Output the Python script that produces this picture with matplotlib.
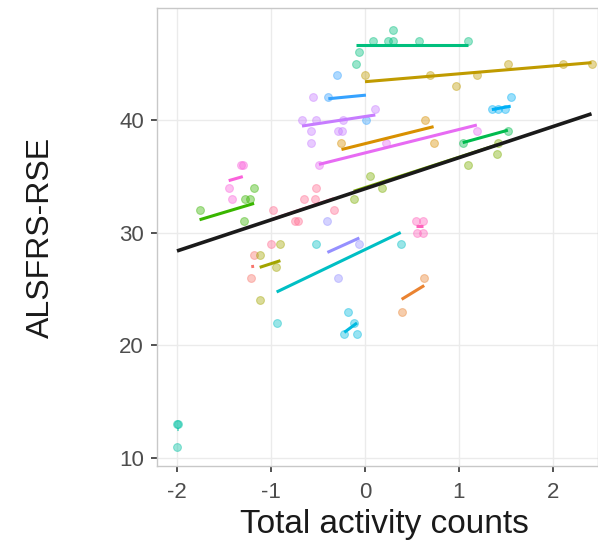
import numpy as np
import matplotlib
matplotlib.use("Agg")
import matplotlib.pyplot as plt

plt.rcParams['font.family'] = ['Liberation Sans', 'DejaVu Sans']
plt.rcParams['axes.unicode_minus'] = False

# per-subject points (total activity counts, ALSFRS-RSE)
groups = ['Q', 'O', 'E', 'B', 'P', 'H', 'I', 'G', 'A', 'R',
          'L', 'M', 'S', 'C', 'T', 'D', 'F', 'J', 'N', 'K']
colors = ['#F8766D', '#EA8331', '#D89000', '#C09B00', '#A3A500',
          '#7CAE00', '#39B600', '#00BB4E', '#00BF7D', '#00C1A3',
          '#00BFC4', '#00BAE0', '#00B0F6', '#35A2FF', '#9590FF',
          '#C77CFF', '#E76BF3', '#FA62DB', '#FF62BC', '#FF6C91']

x_vals = {
    'A': [-0.10, -0.06, 0.09, 0.25, 0.30, 0.30, 0.57, 1.10],
    'B': [0.00, 0.69, 0.97, 1.19, 1.52, 2.11, 2.41],
    'C': [-0.39, -0.30, 0.01],
    'D': [-0.67, -0.57, -0.57, -0.55, -0.52, -0.29, -0.24, -0.23, 0.11],
    'E': [-0.25, 0.64, 0.73],
    'F': [-0.49, 0.22, 1.19],
    'G': [1.04, 1.52],
    'H': [-0.12, 0.05, 0.18, 1.10, 1.40, 1.41],
    'I': [-1.76, -1.29, -1.28, -1.22, -1.18],
    'J': [-1.45, -1.41, -1.32, -1.30],
    'K': [-1.00, -0.98, -0.74, -0.71, -0.65, -0.53, -0.52, -0.33],
    'L': [-0.94, -0.52, 0.38],
    'M': [-0.22, -0.18, -0.12, -0.085],
    'N': [0.54, 0.62, 0.55, 0.62],
    'O': [0.39, 0.63],
    'P': [-1.12, -1.12, -0.95, -0.90],
    'Q': [-1.21, -1.18],
    'R': [-2.00, -1.99, -2.00],
    'S': [1.35, 1.42, 1.49, 1.55],
    'T': [-0.40, -0.29, -0.06],
}
y_vals = {
    'A': [45, 46, 47, 47, 48, 47, 47, 47],
    'B': [44, 44, 43, 44, 45, 45, 45],
    'C': [42, 44, 40],
    'D': [40, 39, 38, 42, 40, 39, 39, 40, 41],
    'E': [38, 40, 38],
    'F': [36, 38, 39],
    'G': [38, 39],
    'H': [33, 35, 34, 36, 37, 38],
    'I': [32, 31, 33, 33, 34],
    'J': [34, 33, 36, 36],
    'K': [29, 32, 31, 31, 33, 33, 34, 32],
    'L': [22, 29, 29],
    'M': [21, 23, 22, 21],
    'N': [31, 31, 30, 30],
    'O': [23, 26],
    'P': [28, 24, 27, 29],
    'Q': [26, 28],
    'R': [13, 13, 11],
    'S': [41, 41, 41, 42],
    'T': [31, 26, 29],
}

# subject-level fitted lines (intercept, slope)
intercepts = {'A': 46.7, 'B': 43.4, 'C': 42.2, 'D': 40.31, 'E': 37.9,
              'F': 37.08, 'G': 35.6, 'H': 34.0, 'I': 35.55, 'J': 38.1,
              'K': 33.95, 'L': 28.5, 'M': 22.52, 'N': 30.6, 'O': 22.1,
              'P': 29.95, 'Q': 28.2, 'R': 12.6, 'S': 38.9, 'T': 29.76}
slopes = {'A': 0.0, 'B': 0.70, 'C': 0.8, 'D': 1.26, 'E': 2.07,
          'F': 2.08, 'G': 2.3, 'H': 2.7, 'I': 2.5, 'J': 2.4,
          'K': 2.8, 'L': 4.0, 'M': 6.2, 'N': 0.0, 'O': 5.1,
          'P': 2.7, 'Q': 1.0, 'R': 0.0, 'S': 1.5, 'T': 3.77}

# population-level line
fixed_intercept = 33.9
fixed_slope = 2.76

fig = plt.figure(figsize=(5.98, 5.44), dpi=100)
ax = fig.add_axes([0.2625, 0.1434, 0.7375, 0.8419])

for g, c in zip(groups, colors):
    ax.scatter(x_vals[g], y_vals[g], s=32, color=c, alpha=0.4,
               edgecolors=c, linewidths=0.8, zorder=2)

for g, c in zip(groups, colors):
    xs = np.array([min(x_vals[g]), max(x_vals[g])])
    ax.plot(xs, intercepts[g] + slopes[g] * xs, color=c, lw=2.2,
            solid_capstyle='butt', zorder=3)

all_x = np.concatenate([x_vals[g] for g in groups])
xs = np.array([all_x.min(), all_x.max()])
ax.plot(xs, fixed_intercept + fixed_slope * xs, color='#1a1a1a', lw=2.6,
        solid_capstyle='butt', zorder=4)

ax.set_xlim(-2.213, 2.479)
ax.set_ylim(9.30, 49.94)
ax.set_xticks([-2, -1, 0, 1, 2])
ax.set_yticks([10, 20, 30, 40])
ax.grid(True, color='#ebebeb', lw=1.0, zorder=0)
ax.set_axisbelow(True)
for sp in ax.spines.values():
    sp.set_color('#c8c8c8')
    sp.set_linewidth(1.0)
ax.tick_params(axis='both', length=4.5, width=1.2, color='#333333',
               labelsize=16, labelcolor='#4d4d4d')
ax.tick_params(axis='x', pad=7)
ax.tick_params(axis='y', pad=5)

ax.set_xlabel('Total activity counts', fontsize=24, color='#1a1a1a')
ax.xaxis.set_label_coords(0.515, -0.093)
ax.set_ylabel('ALSFRS-RSE', fontsize=23, color='#1a1a1a', labelpad=45)

fig.savefig('out.png', dpi=100)
